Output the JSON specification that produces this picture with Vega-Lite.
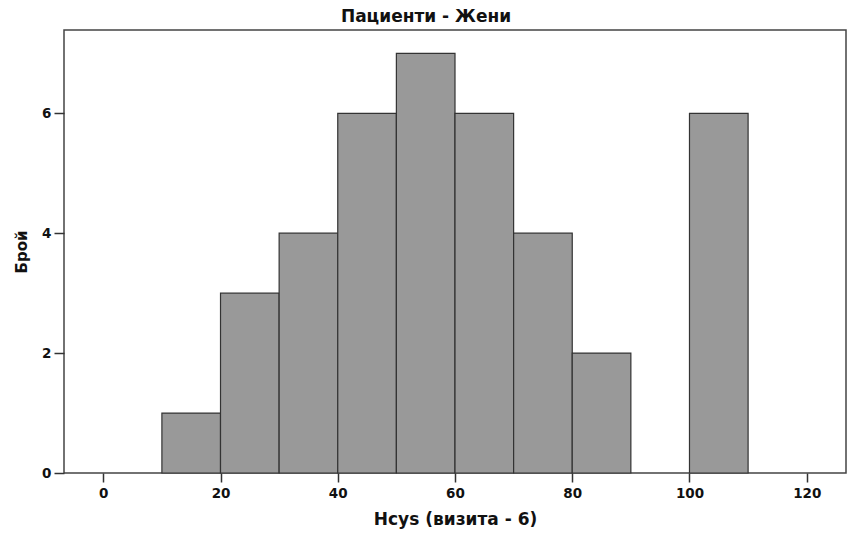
{
  "$schema": "https://vega.github.io/schema/vega-lite/v6.json",
  "width": 782,
  "height": 443,
  "autosize": {"type": "none"},
  "padding": {"left": 64, "top": 30, "right": 3, "bottom": 66},
  "background": "white",
  "title": {
    "text": "Пациенти - Жени",
    "font": "DejaVu Sans",
    "fontSize": 17,
    "fontWeight": "bold",
    "color": "#111",
    "anchor": "middle",
    "dx": -29,
    "offset": 4
  },
  "config": {
    "view": {"stroke": "#444", "strokeWidth": 1.5},
    "axis": {
      "labelFont": "DejaVu Sans",
      "labelFontWeight": "bold",
      "labelFontSize": 13.5,
      "labelColor": "#111",
      "titleFont": "DejaVu Sans",
      "titleFontWeight": "bold",
      "titleFontSize": 17,
      "titleColor": "#111",
      "tickColor": "#333",
      "tickWidth": 1.5,
      "domain": false,
      "grid": false
    }
  },
  "data": {
    "values": [
      {"bin_start": 10, "bin_end": 20, "count": 1},
      {"bin_start": 20, "bin_end": 30, "count": 3},
      {"bin_start": 30, "bin_end": 40, "count": 4},
      {"bin_start": 40, "bin_end": 50, "count": 6},
      {"bin_start": 50, "bin_end": 60, "count": 7},
      {"bin_start": 60, "bin_end": 70, "count": 6},
      {"bin_start": 70, "bin_end": 80, "count": 4},
      {"bin_start": 80, "bin_end": 90, "count": 2},
      {"bin_start": 100, "bin_end": 110, "count": 6}
    ]
  },
  "mark": {"type": "bar", "fill": "#999999", "stroke": "#333333", "strokeWidth": 1.2},
  "encoding": {
    "x": {
      "field": "bin_start",
      "type": "quantitative",
      "scale": {"domain": [-6.7, 126.7], "nice": false, "zero": false},
      "axis": {"values": [0, 20, 40, 60, 80, 100, 120], "tickSize": 9, "labelPadding": 4, "title": "Hcys (визита - 6)", "titlePadding": 12}
    },
    "x2": {"field": "bin_end"},
    "y": {
      "field": "count",
      "type": "quantitative",
      "scale": {"domain": [0, 7.39], "nice": false},
      "axis": {"values": [0, 2, 4, 6], "tickSize": 10, "labelPadding": 3, "title": "Брой", "titleFontSize": 15, "titlePadding": 12}
    },
    "y2": {"datum": 0}
  }
}
